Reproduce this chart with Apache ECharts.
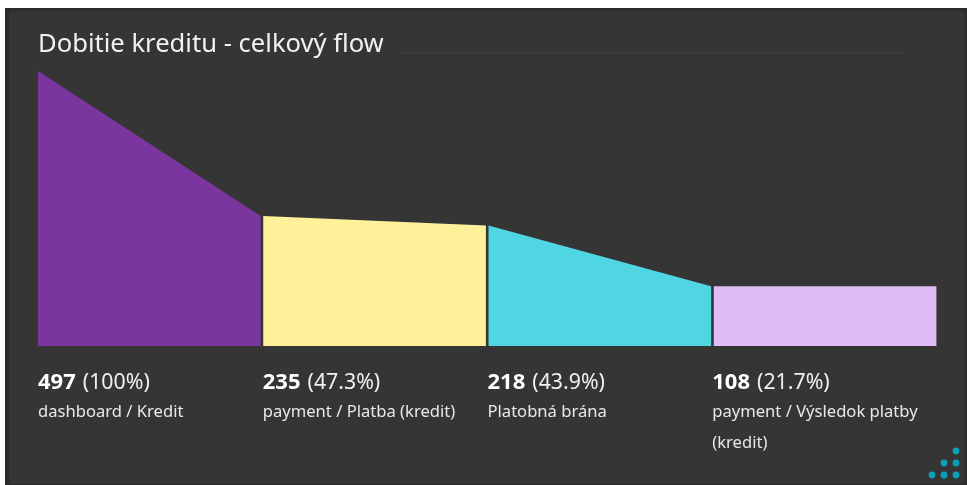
<!DOCTYPE html>
<html>
<head>
<meta charset="utf-8">
<style>
  html, body { margin: 0; padding: 0; background: #ffffff; }
  #chart { width: 967px; height: 485px; }
</style>
<script src="https://cdn.jsdelivr.net/npm/echarts@6/dist/echarts.min.js"></script>
</head>
<body>
<div id="chart"></div>
<script>
// Funnel steps of the credit top-up flow
const stepNames = ['dashboard / Kredit', 'payment / Platba (kredit)', 'Platobná brána', 'payment / Výsledok platby\n(kredit)'];
const stepCounts = [497, 235, 218, 108];
const stepShares = ['100%', '47.3%', '43.9%', '21.7%'];
const stepColors = ['#7b359f', '#fff09a', '#4fd6e2', '#dfbcf5'];
const chartTitle = 'Dobitie kreditu - celkový flow';

const FONT = '"Noto Sans", sans-serif';
const GAP = 2.6;
const PANEL = '#353535';

const chart = echarts.init(document.getElementById('chart'), null, { renderer: 'canvas' });

function renderStep(params, api) {
  const i = params.dataIndex;
  const next = i + 1 < stepCounts.length ? stepCounts[i + 1] : stepCounts[i];
  const tl = api.coord([i, stepCounts[i]]);
  const tr = api.coord([i + 1, next]);
  const bl = api.coord([i, 0]);
  const br = api.coord([i + 1, 0]);
  const rightEdge = tr[0] - GAP;
  const labelX = bl[0] - i * 0.5;
  return {
    type: 'group',
    children: [
      {
        type: 'polygon',
        shape: { points: [[tl[0], tl[1]], [rightEdge, tr[1]], [rightEdge, br[1]], [bl[0], bl[1]]] },
        style: { fill: stepColors[i] }
      },
      {
        type: 'text',
        x: labelX,
        y: bl[1] + 26,
        style: {
          text: '{v|' + stepCounts[i] + '}{p|(' + stepShares[i] + ')}',
          rich: {
            v: { font: '700 22px ' + FONT, fill: '#ffffff', padding: [0, 7, 0, 0] },
            p: { font: '400 21.3px ' + FONT, fill: '#f0f0f0' }
          },
          fill: '#ffffff'
        }
      },
      {
        type: 'text',
        x: labelX,
        y: bl[1] + 51,
        style: {
          text: stepNames[i],
          font: '400 16.6px ' + FONT,
          fill: '#e8e8e8',
          lineHeight: 31,
          verticalAlign: 'top'
        }
      }
    ]
  };
}

chart.setOption({
  animation: false,
  backgroundColor: 'transparent',
  title: {
    text: chartTitle,
    left: 38,
    top: 32,
    padding: 0,
    textStyle: { fontFamily: FONT, fontWeight: 400, fontSize: 25.6, color: '#f2f2f2' }
  },
  grid: { left: 38, right: 28, top: 71, height: 275 },
  xAxis: { type: 'value', min: 0, max: stepCounts.length, show: false },
  yAxis: { type: 'value', min: 0, max: stepCounts[0], show: false },
  graphic: [
    { type: 'rect', z: -10, shape: { x: 5, y: 8, width: 962, height: 477 }, style: { fill: '#2b2b2b' } },
    { type: 'rect', z: -9, shape: { x: 9, y: 11, width: 956, height: 473, r: 3 }, style: { fill: PANEL } },
    { type: 'line', z: -8, shape: { x1: 400, y1: 53, x2: 905, y2: 53 }, style: { stroke: '#414141', lineWidth: 1 } },
    // Brand dots in the lower right corner
    ...[[956, 451], [944, 463], [956, 463], [932, 475], [944, 475], [956, 475]].map(([cx, cy]) => ({
      type: 'circle', z: -8, shape: { cx, cy, r: 3.4 }, style: { fill: '#0aa0b8' }
    }))
  ],
  series: [{
    type: 'custom',
    renderItem: renderStep,
    clip: false,
    encode: { x: 0, y: 1 },
    data: stepCounts.map((count, i) => [i, count])
  }]
});
</script>
</body>
</html>
